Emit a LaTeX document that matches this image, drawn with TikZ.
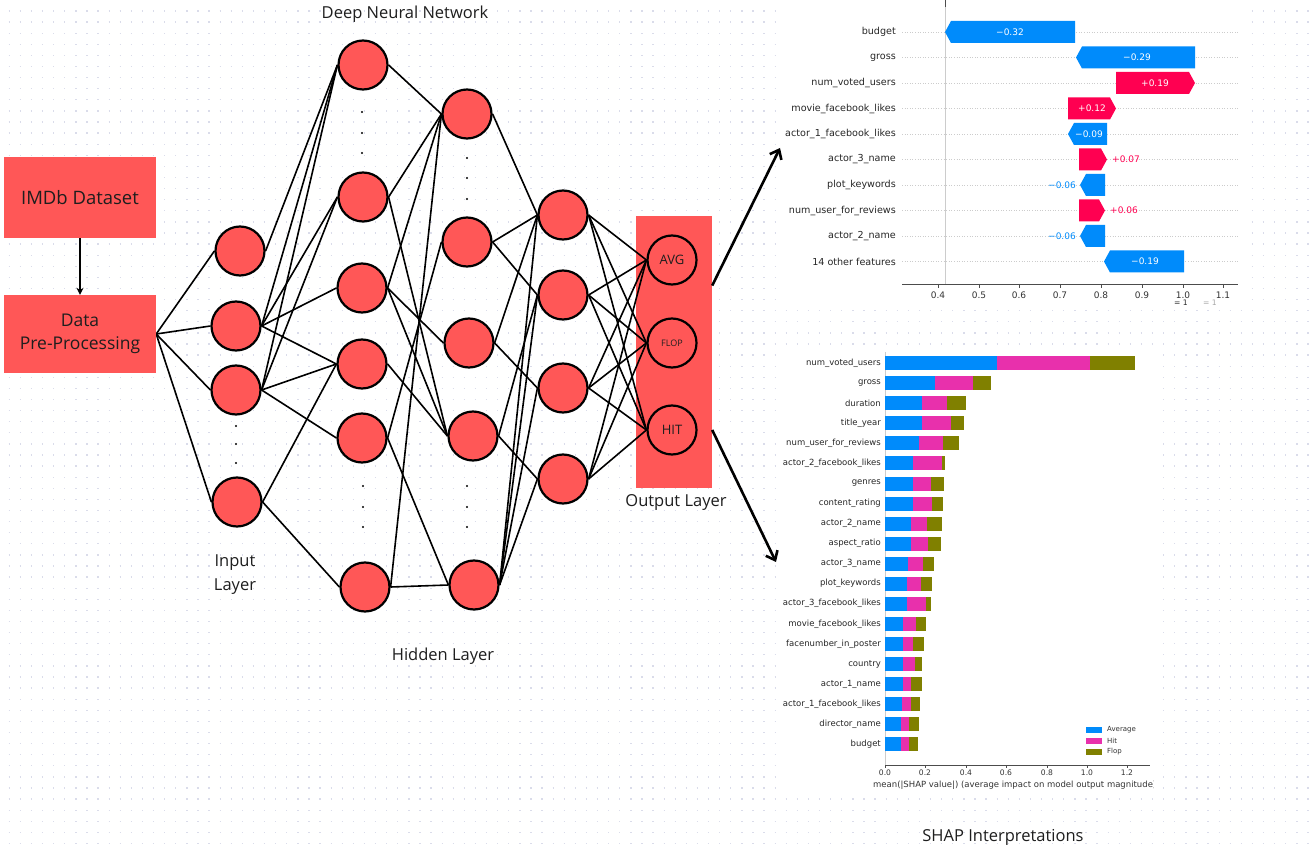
\documentclass[tikz,border=0pt]{standalone}
\usepackage{fontspec}
\setmainfont{Open Sans}
\newfontfamily\plotfont{DejaVu Sans}
\usetikzlibrary{arrows.meta}

\definecolor{nnred}{RGB}{255,87,87}
\definecolor{shapblue}{RGB}{0,139,251}
\definecolor{shapred}{RGB}{255,0,81}
\definecolor{shappink}{RGB}{232,48,172}
\definecolor{shapolive}{RGB}{128,128,0}
\definecolor{griddot}{RGB}{218,220,234}
\definecolor{txtgray}{RGB}{30,30,30}

\pgfdeclarelayer{bg}
\pgfdeclarelayer{wires}
\pgfsetlayers{bg,wires,main}

\tikzset{
	neuron/.style={circle, draw=black, line width=2.2pt, fill=nnred,
		minimum size=49pt, inner sep=0pt, text=txtgray},
	wire/.style={line width=1.6pt},
	nndot/.style={circle, fill=black, inner sep=0pt, minimum size=2.4pt},
	databox/.style={rectangle, fill=nnred, minimum width=152pt, align=center,
		text=txtgray, font=\fontsize{17.5}{23}\selectfont},
	ttl/.style={align=center, text=txtgray, font=\fontsize{16.5}{24}\selectfont},
	bigarrow/.style={line width=2.6pt, -{Straight Barb[length=8pt,width=13pt]}},
	wflabel/.style={anchor=east, inner sep=0pt, text=black!85,
		font=\plotfont\fontsize{9.6}{11}\selectfont},
	wfval/.style={inner sep=0pt, font=\plotfont\fontsize{9}{11}\selectfont},
	barlabel/.style={anchor=east, inner sep=0pt, text=black!85,
		font=\plotfont\fontsize{8.5}{10}\selectfont},
	ticklabel/.style={inner sep=0pt, text=black!80,
		font=\plotfont\fontsize{9}{11}\selectfont},
	smalltick/.style={inner sep=0pt, text=black!80,
		font=\plotfont\fontsize{7.6}{9}\selectfont},
}

\begin{document}
\begin{tikzpicture}[x=1pt, y=-1pt]
\useasboundingbox (0,0) rectangle (1315,850);

% background, dotted grid, chart panels, output box
\begin{pgfonlayer}{bg}
	\fill[white] (0,0) rectangle (1315,850);
	\foreach \r in {0,...,75}
		\draw[griddot, line width=1.3pt, dash pattern=on 1.3pt off 9.8pt]
			(8.65,{11+11.1*\r}) -- (1315,{11+11.1*\r});
	\fill[white] (778,0) rectangle (1242,308);
	\fill[white] (776,348) rectangle (1156,796);
	\node[fill=nnred, minimum width=76pt, minimum height=272pt, inner sep=0pt]
		(outbox) at (674,352) {};
\end{pgfonlayer}

% data boxes
\node[databox, font=\fontsize{18.5}{23}\selectfont, minimum height=81pt]
	(imdb) at (80,197.5) {IMDb Dataset};
\node[databox, minimum height=78pt] (prep) at (80,334) {Data\\Pre-Processing};
\draw[line width=1.6pt, -{Stealth[length=7pt,width=7pt]}] (imdb) -- (prep);

% input layer
\node[neuron] (i1) at (240,251) {};
\node[neuron] (i2) at (236,326) {};
\node[neuron] (i3) at (236,390) {};
\node[neuron] (i4) at (237,502) {};

% hidden layers
\node[neuron] (a1) at (363,65) {};
\node[neuron] (a2) at (363,197) {};
\node[neuron] (a3) at (362,288) {};
\node[neuron] (a4) at (362,364) {};
\node[neuron] (a5) at (362,438) {};
\node[neuron] (a6) at (365,587) {};

\node[neuron] (b1) at (467,114) {};
\node[neuron] (b2) at (467,242) {};
\node[neuron] (b3) at (469,343) {};
\node[neuron] (b4) at (473,436) {};
\node[neuron] (b5) at (474,585) {};

\node[neuron] (c1) at (563,215) {};
\node[neuron] (c2) at (563,295) {};
\node[neuron] (c3) at (563,388) {};
\node[neuron] (c4) at (563,479) {};

% output layer
\node[neuron] (o1) at (672,260) {\fontsize{13}{15}\selectfont AVG};
\node[neuron] (o2) at (672,343) {\fontsize{9}{11}\selectfont FLOP};
\node[neuron] (o3) at (672,430) {\fontsize{13}{15}\selectfont HIT};

% the dots
\foreach \yy [count=\k] in {426,444,463}
	\node[nndot] (dotin\k) at (236,\yy) {};
\foreach \yy [count=\k] in {112,133,153}
	\node[nndot] (dota\k) at (362,\yy) {};
\foreach \yy [count=\k] in {486,507,527}
	\node[nndot] (dotaa\k) at (363,\yy) {};
\foreach \yy [count=\k] in {158,178,199}
	\node[nndot] (dotb\k) at (467,\yy) {};
\foreach \yy [count=\k] in {486,507,527}
	\node[nndot] (dotbb\k) at (467,\yy) {};

% connections
\begin{pgfonlayer}{wires}
	\foreach \t in {i1,i2,i3,i4}
		\draw[wire] (prep.east) -- (\t.west);
	\foreach \s/\t in {i1/a1, i2/a1, i2/a2, i2/a3, i2/a4, i3/a1, i3/a2, i3/a4,
			i3/a5, i4/a4, i4/a6}
		\draw[wire] (\s.east) -- (\t.west);
	\foreach \s/\t in {a1/b1, a2/b1, a2/b4, a3/b1, a3/b3, a3/b4, a4/b4, a5/b2,
			a5/b5, a6/b1, a6/b5}
		\draw[wire] (\s.east) -- (\t.west);
	\foreach \s/\t in {b1/c1, b2/c1, b2/c2, b3/c1, b3/c3, b4/c2, b4/c4, b5/c1,
			b5/c2, b5/c3, b5/c4}
		\draw[wire] (\s.east) -- (\t.west);
	\foreach \s in {c1,c2,c3,c4}
		\foreach \t in {o1,o2,o3}
			\draw[wire] (\s.east) -- (\t.west);
\end{pgfonlayer}

% labels
\node[ttl] (dnntitle) at (405,14) {Deep Neural Network};
\node[ttl] (inputlbl) at (235,575) {Input\\Layer};
\node[ttl] (hiddenlbl) at (443,656) {Hidden Layer};
\node[ttl] (outputlbl) at (676,502) {Output Layer};
\node[ttl] (shaplbl) at (1003,837) {SHAP Interpretations};

% arrows to the charts
\coordinate (wfin) at (780,148);
\coordinate (sumin) at (776,562);
\draw[bigarrow] (outbox.east |- o1.south) -- (wfin);
\draw[bigarrow] (outbox.east |- o3) -- (sumin);

% waterfall chart
\draw[gray!40, line width=0.6pt] (945,0) -- (945,284);
\draw[black!70, line width=0.8pt] (945,0) -- (945,7);
\foreach \yy/\lab [count=\k] in {32/budget, 57.5/gross, 83/num\_voted\_users,
		108.5/movie\_facebook\_likes, 134/actor\_1\_facebook\_likes,
		159.5/actor\_3\_name, 185/plot\_keywords, 210.5/num\_user\_for\_reviews,
		236/actor\_2\_name, 261.5/14 other features}{
	\draw[gray!40, dotted, line width=0.6pt] (902,\yy) -- (1238,\yy);
	\node[wflabel] (wfl\k) at (896,\yy) {\lab};
}
\foreach \yy/\xl/\xr in {32/945/1075, 57.5/1076/1195, 134/1068/1107,
		185/1080/1105, 236/1080/1105, 261.5/1104/1184}
	\fill[shapblue] (\xr,{\yy-11}) -- ({\xl+6},{\yy-11}) -- (\xl,\yy)
		-- ({\xl+6},{\yy+11}) -- (\xr,{\yy+11}) -- cycle;
\foreach \yy/\xl/\xr in {83/1116/1195, 108.5/1068/1116, 159.5/1079/1107,
		210.5/1079/1105}
	\fill[shapred] (\xl,{\yy-11}) -- ({\xr-6},{\yy-11}) -- (\xr,\yy)
		-- ({\xr-6},{\yy+11}) -- (\xl,{\yy+11}) -- cycle;
\foreach \xx/\yy/\v [count=\k] in {1010/32/−0.32, 1137/57.5/−0.29, 1155/83/+0.19,
		1092/108.5/+0.12, 1089/134/−0.09, 1145/261.5/−0.19}
	\node[wfval, text=white] (wfv\k) at (\xx,\yy) {\v};
\node[wfval, text=shapred, anchor=west] (wfo1) at (1112,159.5) {+0.07};
\node[wfval, text=shapblue, anchor=east] (wfo2) at (1076,185) {−0.06};
\node[wfval, text=shapred, anchor=west] (wfo3) at (1110,210.5) {+0.06};
\node[wfval, text=shapblue, anchor=east] (wfo4) at (1076,236) {−0.06};
\draw[black!70, line width=0.8pt] (902,284) -- (1238,284);
\foreach \xx/\t [count=\k] in {938/0.4, 979/0.5, 1019/0.6, 1060/0.7, 1101/0.8,
		1142/0.9, 1183/1.0, 1223/1.1}{
	\draw[black!70, line width=0.6pt] (\xx,284) -- (\xx,288);
	\node[ticklabel] (wft\k) at (\xx,295) {\t};
}
\node[smalltick, text=black!85] (fxa) at (1181,303) {= 1};
\node[smalltick, text=black!35] (fxb) at (1210,303) {= 1};

% summary bar chart
\draw[gray!40, line width=0.6pt] (885,352) -- (885,765);
\foreach \yy/\lab/\a/\b/\c [count=\k] in {
		363/num\_voted\_users/997/1090/1135,
		383/gross/935/973/991,
		403/duration/922/947/966,
		423/title\_year/922/951/964,
		443/num\_user\_for\_reviews/919/943/959,
		463/actor\_2\_facebook\_likes/913/942/945,
		483.5/genres/913/931/944,
		503.5/content\_rating/913/932/943,
		523.5/actor\_2\_name/911/927/942,
		543.5/aspect\_ratio/911/928/941,
		563.5/actor\_3\_name/908/923/934,
		583.5/plot\_keywords/907/921/932,
		603.5/actor\_3\_facebook\_likes/907/926/931,
		624/movie\_facebook\_likes/903/916/926,
		644/facenumber\_in\_poster/903/913/924,
		664/country/903/915/922,
		684/actor\_1\_name/903/911/922,
		704/actor\_1\_facebook\_likes/902/911/920,
		724/director\_name/901/909/919,
		744/budget/901/909/918}{
	\fill[shapblue] (885,{\yy-7}) rectangle (\a,{\yy+7});
	\fill[shappink] (\a,{\yy-7}) rectangle (\b,{\yy+7});
	\fill[shapolive] (\b,{\yy-7}) rectangle (\c,{\yy+7});
	\node[barlabel] (bl\k) at (881,\yy) {\lab};
}
\draw[black!70, line width=0.8pt] (885,765) -- (1150,765);
\foreach \xx/\t [count=\k] in {885/0.0, 925/0.2, 966/0.4, 1006/0.6, 1047/0.8,
		1087/1.0, 1127/1.2}{
	\draw[black!70, line width=0.6pt] (\xx,765) -- (\xx,768);
	\node[smalltick] (bt\k) at (\xx,773) {\t};
}
\begin{scope}
	\clip (860,777) rectangle (1153,796);
	\node[smalltick, anchor=west, font=\plotfont\fontsize{8.5}{10}\selectfont]
		(bartitle) at (873,785.5)
		{mean(|SHAP value|) (average impact on model output magnitude)};
\end{scope}
\foreach \yy/\col/\t [count=\k] in {730/shapblue/Average, 741/shappink/Hit,
		752/shapolive/Flop}{
	\fill[\col] (1086,{\yy-3}) rectangle (1102,{\yy+3});
	\node[smalltick, anchor=west, font=\plotfont\fontsize{7}{8}\selectfont]
		(lg\k) at (1107,\yy) {\t};
}
\end{tikzpicture}
\end{document}
